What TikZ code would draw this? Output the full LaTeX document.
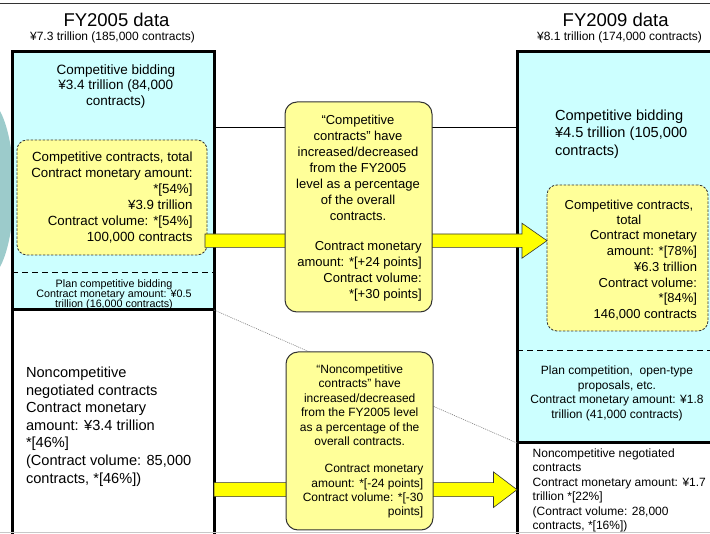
\documentclass[tikz,border=0pt]{standalone}
\usepackage{fontspec}
\setmainfont{Liberation Sans}
\usetikzlibrary{calc}
\definecolor{cyanbg}{HTML}{CCFFFF}
\definecolor{yelbox}{HTML}{FFFF99}
\definecolor{yelarr}{HTML}{FFFF00}
\definecolor{tealc}{HTML}{9CCBCB}
\definecolor{edgec}{HTML}{333333}
\definecolor{botline}{HTML}{C8C8C8}
\begin{document}
\begin{tikzpicture}[x=1pt,y=-1pt,
  region/.style={anchor=north west, inner sep=0pt, outer sep=0pt},
  dashbox/.style={region, draw=edgec, line width=0.8pt, dash pattern=on 2.5pt off 1.5pt, fill=yelbox, rounded corners=10pt},
  callout/.style={region, draw=edgec, line width=1pt, fill=yelbox, rounded corners=12pt},
  yarrow/.style={draw=edgec, line width=0.6pt, fill=yelarr},
  border/.style={line width=3pt, draw=black},
  sepline/.style={line width=1.5pt, draw=black, dash pattern=on 6pt off 4pt},
  txt/.style={inner sep=0pt, outer sep=0pt},
  thinline/.style={line width=0.8pt, draw=black},
  dotline/.style={line width=0.6pt, draw=gray, dash pattern=on 1pt off 1pt},
]
\useasboundingbox (0,0) rectangle (710,534);
\clip (0,0) rectangle (710,534);
\fill[white] (0,0) rectangle (710,534);
% teal shape at the left
\fill[tealc] (-14,189) ellipse [x radius=28pt, y radius=90pt];
% top rule
\draw[line width=1.5pt, draw=edgec] (0,3.3) -- (710,3.3);

% titles
\node[txt, font=\fontsize{18.5}{20}\selectfont] (t05) at (116.5,20) {FY2005 data};
\node[txt, font=\fontsize{12}{14}\selectfont] (s05) at (112.5,37) {¥7.3 trillion (185,000 contracts)};
\node[txt, font=\fontsize{18.5}{20}\selectfont] (t09) at (615.7,20) {FY2009 data};
\node[txt, font=\fontsize{12}{14}\selectfont] (s09) at (619.5,37) {¥8.1 trillion (174,000 contracts)};

% region fills
\node[region, fill=cyanbg, minimum width=202pt, minimum height=258pt] (LC) at (12,52) {};
\node[region, fill=white, minimum width=202pt, minimum height=235pt] (LW) at (12,310) {};
\node[region, fill=cyanbg, minimum width=210pt, minimum height=391pt] (RC) at (517,52) {};
\node[region, fill=white, minimum width=210pt, minimum height=100pt] (RW) at (517,443) {};

% left box content
\node[txt, align=center, font=\fontsize{13.5}{15.8}\selectfont] (lcb) at (115.8,86.5) {Competitive bidding\\¥3.4 trillion (84,000\\contracts)};
\node[dashbox, minimum width=190pt, minimum height=115pt] (LY) at (17,140) {};
\node[txt, align=right, anchor=east, font=\fontsize{13.3}{16}\selectfont] (lyt) at (192.5,198) {Competitive contracts, total\\Contract monetary amount:\\*[54\%]\\¥3.9 trillion\\Contract volume: *[54\%]\hspace*{19pt}\\100,000 contracts};
\draw[sepline] (12,272.7) -- (214,272.7);
\node[txt, align=center, font=\fontsize{10.75}{10.3}\selectfont] (lpt) at (114,294.8) {Plan competitive bidding\\Contract monetary amount: ¥0.5\\trillion (16,000 contracts)};
\node[txt, align=left, anchor=west, font=\fontsize{14.6}{17.6}\selectfont] (lnt) at (26,426.5) {Noncompetitive\\negotiated contracts\\Contract monetary\\amount: ¥3.4 trillion\\*[46\%]\\(Contract volume: 85,000\\contracts, *[46\%])};

% right box content
\node[txt, align=left, anchor=west, font=\fontsize{14.6}{17.5}\selectfont] (rcb) at (555,134) {Competitive bidding\\¥4.5 trillion (105,000\\contracts)};
\node[dashbox, minimum width=161pt, minimum height=146pt] (RY) at (547,185) {};
\node[txt, align=center, font=\fontsize{13}{15.7}\selectfont] (ryt1) at (629,212.5) {Competitive contracts,\\total};
\node[txt, align=right, anchor=east, font=\fontsize{13}{15.7}\selectfont] (ryt2) at (697,275.5) {Contract monetary\\amount: *[78\%]\\¥6.3 trillion\\Contract volume:\\*[84\%]\\146,000 contracts};
\draw[sepline] (517,350.7) -- (720,350.7);
\node[txt, align=center, font=\fontsize{12}{14.5}\selectfont] (rpt) at (617,393.3) {Plan competition,\ \ open-type\\proposals, etc.\\Contract monetary amount: ¥1.8\\trillion (41,000 contracts)};
\node[txt, align=left, anchor=west, font=\fontsize{12}{14.5}\selectfont] (rnt) at (532.7,490.5) {Noncompetitive negotiated\\contracts\\Contract monetary amount: ¥1.7\\trillion *[22\%]\\(Contract volume: 28,000\\contracts, *[16\%])};

% box borders
\draw[border] (LC.north west) rectangle (LW.south east);
\draw[border] (LC.south west) -- (LC.south east);
\draw[border] (RC.north west) rectangle (RW.south east);
\draw[border] (RC.south west) -- (RC.south east);

% connectors
\coordinate (h1a) at (214,127.7);
\coordinate (h1b) at (517,127.7);
\draw[thinline] (h1a) -- (h1b);
\draw[dotline] (LC.south east) -- (RC.south west);

\coordinate (a1s) at (205,240.7);
\coordinate (a1t) at (547,240.7);
\draw[yarrow] ($(a1s)+(0,-6.7)$) -- ($(a1t)+(-25,-6.7)$) -- ($(a1t)+(-25,-17.5)$) -- (a1t)
  -- ($(a1t)+(-25,17.5)$) -- ($(a1t)+(-25,6.7)$) -- ($(a1s)+(0,6.7)$) -- cycle;
\coordinate (a2s) at (214,489.7);
\coordinate (a2t) at (517,489.7);
\draw[yarrow] ($(a2s)+(0,-7)$) -- ($(a2t)+(-23.5,-7)$) -- ($(a2t)+(-23.5,-17.8)$) -- (a2t)
  -- ($(a2t)+(-23.5,17.8)$) -- ($(a2t)+(-23.5,7)$) -- ($(a2s)+(0,7)$) -- cycle;

% callouts
\node[callout, minimum width=147pt, minimum height=210pt] (C1) at (285,102) {};
\node[txt, align=center, font=\fontsize{13}{16}\selectfont] (c1a) at (358,168) {“Competitive\\contracts” have\\increased/decreased\\from the FY2005\\level as a percentage\\of the overall\\contracts.};
\node[txt, align=right, anchor=east, font=\fontsize{13}{16}\selectfont] (c1b) at (421.7,271) {Contract monetary\\amount: *[+24 points]\\Contract volume:\\*[+30 points]};

\node[callout, minimum width=147pt, minimum height=178pt] (C2) at (286,352) {};
\node[txt, align=center, font=\fontsize{12}{14.4}\selectfont] (c2a) at (359.7,405.2) {“Noncompetitive\\contracts” have\\increased/decreased\\from the FY2005 level\\as a percentage of the\\overall contracts.};
\node[txt, align=right, anchor=east, font=\fontsize{12}{14.2}\selectfont] (c2b) at (423.3,491.2) {Contract monetary\\amount: *[-24 points]\\Contract volume: *[-30\\points]};

% bottom rule
\draw[line width=1.2pt, draw=botline] (0,532.8) -- (710,532.8);
\end{tikzpicture}
\end{document}
